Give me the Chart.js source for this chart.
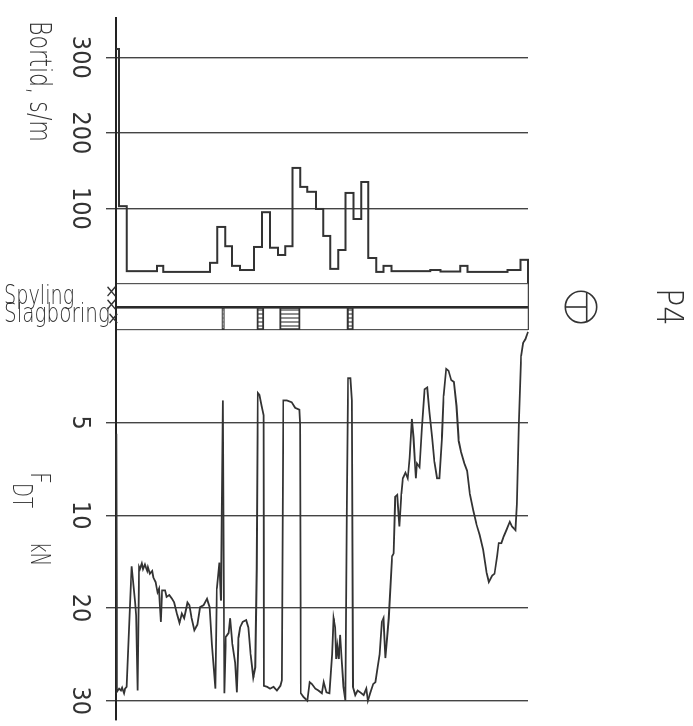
<!DOCTYPE html>
<html>
<head>
<meta charset="utf-8">
<script src="https://cdn.jsdelivr.net/npm/chart.js@4.4.1/dist/chart.umd.min.js"></script>
<style>
  html, body { margin: 0; padding: 0; background: #fff; }
  body { width: 693px; height: 726px; position: relative; overflow: hidden;
         font-family: 'DejaVu Sans Condensed', 'Liberation Sans Narrow', sans-serif; color: #333; }
  /* the sounding log is drawn upright and turned a quarter clockwise */
  #rot { position: absolute; left: 0; top: 0; width: 726px; height: 693px;
         transform-origin: 0 0; transform: translate(693px, 0) rotate(90deg); }
  #rot canvas { position: absolute; top: 0; }
  .lbl { position: absolute; white-space: nowrap; line-height: 1; transform-origin: 0 0;
         font-family: 'DejaVu Sans', sans-serif; font-weight: 200; }
  .x { position: absolute; line-height: 1; font-size: 17px; color: #333; }
</style>
</head>
<body>
<div id="rot">
  <canvas id="bort" width="284" height="693" style="left:0"></canvas>
  <canvas id="band" width="54" height="693" style="left:280px"></canvas>
  <canvas id="fdt" width="396" height="693" style="left:330px"></canvas>
  <div class="lbl" style="left:21px;top:638px;font-size:30px;transform:scaleX(0.74)">Bortid, s/m</div>
  <div class="lbl" style="left:472px;top:640px;font-size:26px;transform:scaleX(0.8)">F</div>
  <div class="lbl" style="left:483px;top:658px;font-size:26px;transform:scaleX(0.7)">DT</div>
  <div class="lbl" style="left:542px;top:640px;font-size:26px;transform:scaleX(0.7)">kN</div>
  <div class="lbl" style="left:288px;top:5px;font-size:37px;transform:scaleX(0.82)">P4</div>
</div>
<div class="lbl" style="left:4px;top:282px;font-size:26px;transform:scaleX(0.74)">Spyling</div>
<div class="lbl" style="left:4px;top:300px;font-size:26px;transform:scaleX(0.77)">Slagboring</div>
<div class="x" style="left:105px;top:283px">×</div>
<div class="x" style="left:105px;top:296px">×</div>
<div class="x" style="left:107px;top:310px">×</div>
<svg width="40" height="40" viewBox="0 0 40 40" style="position:absolute;left:561px;top:286.5px">
  <circle cx="20" cy="20" r="15.7" fill="none" stroke="#333" stroke-width="1.6"/>
  <line x1="4.3" y1="20" x2="25.7" y2="20" stroke="#333" stroke-width="1.6"/>
  <line x1="25.7" y1="5.5" x2="25.7" y2="34.5" stroke="#333" stroke-width="1.6"/>
</svg>

<script>
// depth in m
const maxDepth = 10.83;

// rotation pressure time, s/m, one value per depth interval
const bortDepth = [0, 0.08, 0.28, 1.08, 1.24, 2.47, 2.66, 2.87, 3.05, 3.26, 3.63, 3.84, 4.05, 4.26,
  4.45, 4.64, 4.84, 5.03, 5.26, 5.45, 5.63, 5.84, 6.03, 6.24, 6.45, 6.63, 6.84, 7.03, 7.24, 8.26,
  8.53, 9.05, 9.24, 10.29, 10.63, 10.83];
const bortTime = [311, 103, 17, 24, 16, 28, 75.5, 50, 24, 18.5, 49, 95, 48, 38.4, 50, 153.6, 128.5,
  122, 99.3, 63.6, 20, 45, 120.5, 86, 135, 34.4, 16, 24, 17, 18.5, 16.5, 24, 16, 18.5, 32];
const bortTicks = [100, 200, 300];

// push force F_DT, kN
const fdtDepth = [0.01, 0.03, 0.08, 0.13, 0.16, 0.21, 0.24, 0.28, 0.41, 0.50, 0.53, 0.57, 0.61, 0.63,
  0.68, 0.71, 0.76, 0.82, 0.84, 0.89, 0.95, 0.98, 1.04, 1.09, 1.13, 1.18, 1.21, 1.29, 1.33, 1.40,
  1.47, 1.53, 1.60, 1.67, 1.73, 1.79, 1.88, 1.93, 1.99, 2.06, 2.14, 2.21, 2.30, 2.39, 2.46, 2.52,
  2.61, 2.65, 2.72, 2.76, 2.81, 2.85, 2.89, 2.96, 3.00, 3.06, 3.13, 3.18, 3.22, 3.26, 3.33, 3.42,
  3.48, 3.54, 3.61, 3.66, 3.70, 3.73, 3.77, 3.83, 3.88, 3.89, 3.97, 4.05, 4.14, 4.23, 4.32, 4.36,
  4.40, 4.49, 4.62, 4.71, 4.82, 4.84, 4.86, 4.93, 5.03, 5.09, 5.15, 5.24, 5.32, 5.41, 5.46, 5.53,
  5.61, 5.68, 5.72, 5.76, 5.79, 5.82, 5.86, 5.89, 5.93, 5.98, 6.03, 6.07, 6.10, 6.16, 6.20, 6.23,
  6.29, 6.35, 6.42, 6.51, 6.58, 6.62, 6.68, 6.76, 6.82, 6.88, 6.93, 6.99, 7.03, 7.08, 7.17, 7.26,
  7.30, 7.34, 7.39, 7.45, 7.50, 7.54, 7.61, 7.67, 7.72, 7.78, 7.82, 7.88, 7.91, 7.98, 8.04, 8.11,
  8.18, 8.24, 8.31, 8.37, 8.44, 8.50, 8.57, 8.61, 8.68, 8.74, 8.81, 8.88, 8.95, 9.01, 9.07, 9.16,
  9.23, 9.30, 9.39, 9.47, 9.56, 9.65, 9.74, 9.80, 9.89, 9.95, 10.02, 10.06, 10.13, 10.19, 10.26,
  10.35, 10.41, 10.50, 10.54, 10.59, 10.65, 10.70, 10.76, 10.83];
const fdtForce = [5.6, 29.0, 28.7, 28.9, 28.6, 29.2, 28.7, 28.5, 15.5, 19.4, 20.8, 28.9, 15.6, 15.8,
  15.2, 15.8, 15.3, 16.0, 15.6, 16.3, 16.0, 16.7, 17.2, 18.3, 17.9, 21.5, 18.1, 18.1, 18.8, 18.6,
  19.0, 19.4, 20.6, 21.6, 20.6, 21.1, 19.4, 19.7, 21.1, 22.4, 21.8, 19.9, 19.7, 19.0, 19.9, 23.9,
  28.7, 17.9, 15.1, 19.2, 3.8, 29.2, 23.1, 22.7, 21.1, 23.9, 25.9, 29.1, 23.2, 22.1, 21.5, 21.3,
  22.1, 25.0, 27.5, 26.4, 15.8, 3.4, 3.5, 4.1, 4.6, 28.4, 28.5, 28.7, 28.5, 28.9, 28.4, 27.8,
  3.8, 3.8, 3.9, 4.2, 4.3, 5.1, 29.2, 29.6, 30.0, 28.0, 28.2, 28.7, 28.9, 29.2, 28.0, 29.1,
  29.2, 25.0, 21.1, 22.1, 25.5, 24.1, 25.5, 22.9, 25.5, 28.5, 30.0, 9.4, 2.6, 2.6, 3.8, 28.5,
  29.4, 28.9, 29.1, 29.4, 28.7, 30.0, 29.2, 28.2, 28.0, 26.4, 25.0, 21.5, 21.1, 25.4, 21.1, 14.4,
  14.1, 9.0, 8.9, 11.2, 8.85, 8.0, 7.7, 8.0, 6.9, 4.8, 5.8, 8.0, 7.2, 7.4, 5.3, 3.2,
  3.1, 4.4, 5.8, 7.1, 8.0, 8.0, 5.7, 3.55, 2.1, 2.2, 2.7, 2.8, 4.1, 6.0, 6.6, 7.2,
  7.6, 8.85, 9.7, 10.9, 12.1, 13.7, 16.2, 17.2, 16.5, 16.3, 14.4, 13.0, 13.0, 12.3, 11.6,
  10.7, 11.2, 11.6, 9.4, 5.0, 1.4, 0.7, 0.5, 0.1];
const fdtTicks = [5, 10, 20, 30];

// hammering (Slagboring) depth intervals; no flushing recorded
const bandRows = ['Spyling', 'Slagboring'];
const slagStart = [2.78, 3.70, 4.30, 6.07];
const slagEnd = [2.85, 3.89, 4.84, 6.24];

const ink = '#333';
Chart.defaults.font.family = "'DejaVu Sans Condensed', 'Liberation Sans Narrow', sans-serif";
Chart.defaults.color = ink;
Chart.defaults.animation = false;

// force axis: 0-10 kN at double scale, 10-30 kN at single
const kink = 10;
const toU = v => v <= kink ? v : kink + (v - kink) / 2;
const fromU = u => u <= kink ? u : kink + (u - kink) * 2;
class KinkScale extends Chart.LinearScale {
  getPixelForValue(value) {
    const lo = toU(this.min), hi = toU(this.max);
    return this.getPixelForDecimal((toU(value) - lo) / (hi - lo));
  }
  getValueForPixel(pixel) {
    const lo = toU(this.min), hi = toU(this.max);
    return fromU(lo + this.getDecimalForPixel(pixel) * (hi - lo));
  }
}
KinkScale.id = 'kink';
KinkScale.defaults = Chart.LinearScale.defaults;
Chart.register(KinkScale);

const depthAxis = { type: 'linear', min: 0, max: maxDepth, display: false };
const noPlugins = { legend: { display: false }, tooltip: { enabled: false } };

function valueAxis(extra, ticks) {
  return Object.assign({
    position: 'bottom',
    afterBuildTicks: s => { s.ticks = ticks.map(v => ({ value: v })); },
    afterFit: s => { s.height = 116; },
    grid: { color: '#444', lineWidth: 1.4, tickLength: 10 },
    border: { display: true, color: '#222', width: 2 },
    ticks: { font: { size: 25 }, padding: 11, maxRotation: 0, autoSkip: false }
  }, extra);
}

// Bortid as steps
const bortPts = [];
bortTime.forEach((t, i) => {
  bortPts.push({ x: t, y: bortDepth[i] }, { x: t, y: bortDepth[i + 1] });
});
bortPts.push({ x: 0, y: bortDepth[bortDepth.length - 1] });

new Chart(document.getElementById('bort'), {
  type: 'scatter',
  data: { datasets: [{ data: bortPts, showLine: true, pointRadius: 0,
    borderColor: ink, borderWidth: 2, clip: 4 }] },
  options: {
    responsive: false,
    layout: { padding: { left: 18, right: 0, top: 165, bottom: 0 } },
    plugins: noPlugins,
    scales: {
      x: valueAxis({ type: 'linear', reverse: true, min: 0, max: 352 }, bortTicks),
      y: depthAxis
    }
  }
});

// hatch for the hammering bars
function hatch() {
  const c = document.createElement('canvas');
  c.width = 4; c.height = 4;
  const g = c.getContext('2d');
  g.strokeStyle = ink; g.lineWidth = 1.1;
  g.beginPath(); g.moveTo(2, 0); g.lineTo(2, 4); g.stroke();
  return g.createPattern(c, 'repeat');
}

new Chart(document.getElementById('band'), {
  type: 'bar',
  data: {
    labels: bandRows,
    datasets: [{
      data: slagStart.map((s, i) => ({ x: 'Slagboring', y: [s, slagEnd[i]] })),
      backgroundColor: hatch(), borderColor: ink, borderWidth: 1.4, borderSkipped: false,
      barPercentage: 1, categoryPercentage: 1
    }]
  },
  options: {
    responsive: false,
    layout: { padding: { left: 4, right: 4, top: 165, bottom: 0 } },
    plugins: noPlugins,
    scales: {
      x: {
        type: 'category', offset: true,
        afterFit: s => { s.height = 116; },
        ticks: { display: false },
        grid: {
          offset: true, drawTicks: false,
          color: c => ['#555', '#2a2a2a', '#999'][c.index] || '#555',
          lineWidth: c => c.index === 1 ? 2.6 : 1.2
        },
        border: { display: true, color: '#222', width: 2 }
      },
      y: {
        type: 'linear', min: 0, max: maxDepth, position: 'left',
        afterBuildTicks: s => { s.ticks = [{ value: maxDepth }]; },
        afterFit: s => { s.width = 0; },
        ticks: { display: false },
        grid: { drawTicks: false, color: '#444', lineWidth: 1.3 },
        border: { display: false }
      }
    }
  }
});

new Chart(document.getElementById('fdt'), {
  type: 'scatter',
  data: { datasets: [{
    data: fdtForce.map((f, i) => ({ x: f, y: fdtDepth[i] })),
    showLine: true, pointRadius: 0, borderColor: ink, borderWidth: 1.8, clip: 4
  }] },
  options: {
    responsive: false,
    layout: { padding: { left: 0, right: 0, top: 165, bottom: 0 } },
    plugins: noPlugins,
    scales: {
      x: valueAxis({ type: 'kink', min: 0, max: 32 }, fdtTicks),
      y: depthAxis
    }
  }
});
</script>
</body>
</html>
